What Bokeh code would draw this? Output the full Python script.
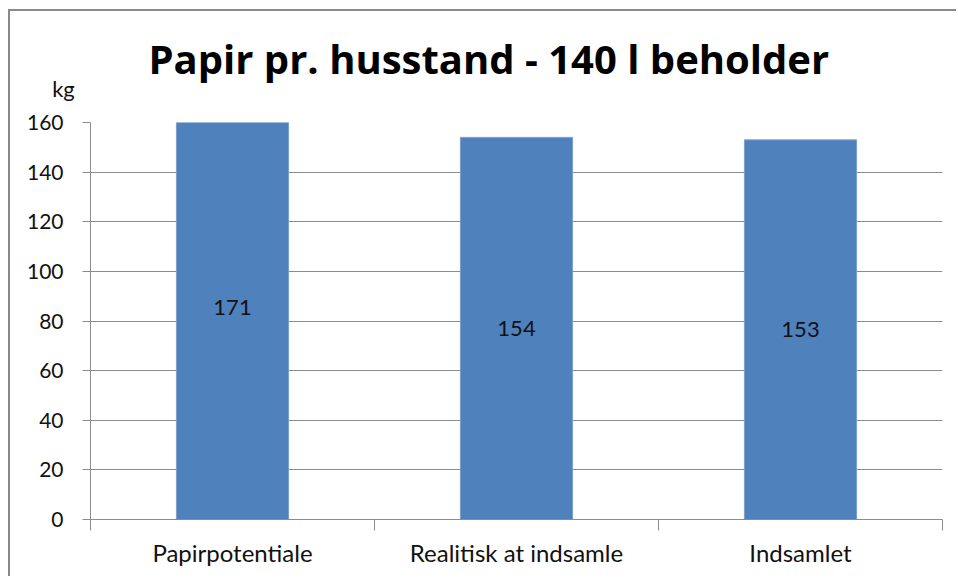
from bokeh.plotting import figure
from bokeh.models import ColumnDataSource, FixedTicker, Label
from bokeh.core.properties import value
from bokeh.embed import file_html
from bokeh.resources import INLINE

categories = ["Papirpotentiale", "Realitisk at indsamle", "Indsamlet"]
values = [171, 154, 153]
y_ticks = [0, 20, 40, 60, 80, 100, 120, 140, 160]
title_text = "Papir pr. husstand - 140 l beholder"
unit_text = "kg"

FONT = "Lato"
GRID = "#8c8c8c"

xs = [i + 0.5 for i in range(len(categories))]
src = ColumnDataSource(dict(
    x=xs,
    top=values,
    mid=[v / 2 for v in values],
    lab=[str(v) for v in values],
))

p = figure(width=948, height=567, output_backend="svg", toolbar_location=None,
           x_range=(0, len(categories)), y_range=(0, 160), title=None,
           min_border_left=80, min_border_right=16, min_border_top=111, min_border_bottom=59)
p.styles = {"margin-left": "8px", "margin-top": "9px",
            "border-left": "2px solid #8a8a8a", "border-top": "2px solid #8a8a8a"}
p.outline_line_color = None
p.background_fill_color = "white"
p.border_fill_color = "white"

p.vbar(x="x", top="top", width=0.395, bottom=0, source=src,
       fill_color="#4F81BD", line_color="#7a9fcc", line_width=1)
p.text(x="x", y="mid", text="lab", source=src, text_align="center", text_baseline="middle",
       text_font=value(FONT), text_font_size="22px", text_color="#111111")

# x axis
p.xaxis.ticker = FixedTicker(ticks=xs, minor_ticks=list(range(len(categories) + 1)))
p.xaxis.major_label_overrides = {x: c for x, c in zip(xs, categories)}
p.xaxis.major_tick_line_color = None
p.xaxis.minor_tick_line_color = GRID
p.xaxis.minor_tick_out = 11
p.xaxis.minor_tick_in = 0
p.xaxis.axis_line_color = GRID
p.xaxis.major_label_text_font = FONT
p.xaxis.major_label_text_font_size = "24px"
p.xaxis.major_label_text_color = "#111111"
p.xaxis.major_label_standoff = 7

# y axis
p.yaxis.ticker = FixedTicker(ticks=y_ticks)
p.yaxis.minor_tick_line_color = None
p.yaxis.major_tick_line_color = GRID
p.yaxis.major_tick_out = 8
p.yaxis.major_tick_in = 0
p.yaxis.axis_line_color = GRID
p.yaxis.major_label_text_font = FONT
p.yaxis.major_label_text_font_size = "21px"
p.yaxis.major_label_text_color = "#111111"
p.yaxis.major_label_standoff = 19

p.xgrid.grid_line_color = None
p.ygrid.grid_line_color = GRID
p.ygrid.grid_line_width = 1

# texts above the frame
p.add_layout(Label(x=58, y=64, x_units="screen", y_units="screen", text=title_text,
                   text_font="Open Sans", text_font_style="bold", text_font_size="40px",
                   text_align="left", text_baseline="alphabetic", text_color="#000000"), "above")
p.add_layout(Label(x=-27, y=-21, x_units="screen", y_units="screen", text=unit_text,
                   text_font=FONT, text_font_size="22px",
                   text_align="center", text_baseline="alphabetic", text_color="#111111"), "above")

open("out.html", "w").write(file_html(p, INLINE))
